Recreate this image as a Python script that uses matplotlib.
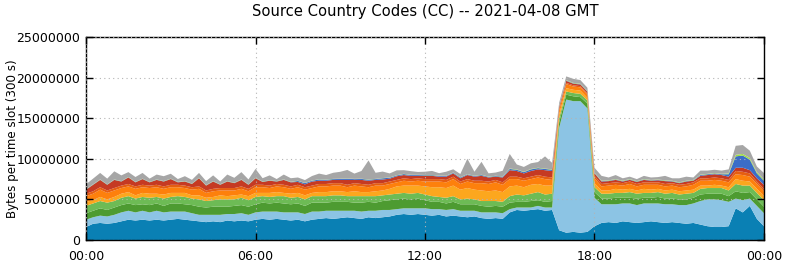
import numpy as np
import matplotlib
matplotlib.use("Agg")
import matplotlib.pyplot as plt
from matplotlib.ticker import FuncFormatter

# ==========================================================
# DATA  (bytes per 300 s slot, in millions)
# one value every 15 minutes, 00:00 .. 24:00 (97 samples)
# ==========================================================

slot_minutes = 15
hour_ticks = [0, 6, 12, 18, 24]
hour_labels = ["00:00", "06:00", "12:00", "18:00", "00:00"]

layer_colors = [
    "#0a80b4",  # dark blue
    "#8cc4e4",  # light blue
    "#4d9b31",  # dark green
    "#6dbb55",  # light green
    "#fca71e",  # amber
    "#fd800c",  # orange
    "#e65e10",  # dark orange
    "#c53a23",  # red
    "#3b6dc8",  # blue
    "#a0e040",  # lime
    "#a6a6a6",  # gray
]

dark_blue = [
    1.6, 2.0, 2.1, 2.0, 2.1, 2.3, 2.5, 2.4, 2.5, 2.4, 2.5, 2.4,
    2.5, 2.6, 2.5, 2.4, 2.3, 2.2, 2.3, 2.2, 2.4, 2.3, 2.4, 2.3,
    2.5, 2.6, 2.5, 2.6, 2.5, 2.4, 2.5, 2.3, 2.5, 2.6, 2.7, 2.6,
    2.7, 2.8, 2.7, 2.6, 2.8, 2.7, 2.8, 2.9, 3.1, 3.2, 3.1, 3.2,
    3.1, 3.0, 3.1, 2.9, 3.0, 2.9, 2.8, 2.9, 2.7, 2.6, 2.7, 2.6,
    3.4, 3.7, 3.6, 3.7, 3.8, 3.6, 3.7, 1.2, 0.9, 1.0, 0.9, 1.0,
    1.7, 2.1, 2.2, 2.1, 2.3, 2.2, 2.1, 2.2, 2.3, 2.2, 2.1, 2.2,
    2.1, 2.0, 2.1, 1.9, 1.7, 1.6, 1.6, 1.7, 3.9, 3.4, 4.2, 2.6,
    1.7,
]

light_blue = [
    0.9, 0.8, 0.9, 0.9, 1.0, 1.1, 1.1, 1.0, 1.1, 1.0, 1.1, 1.0,
    1.0, 0.9, 1.0, 0.9, 0.8, 0.9, 0.8, 0.9, 0.8, 0.9, 0.9, 0.8,
    0.9, 0.9, 1.0, 0.9, 0.9, 1.0, 0.9, 0.9, 1.0, 0.9, 0.9, 1.0,
    0.9, 0.8, 0.9, 0.9, 0.8, 0.9, 0.9, 0.8, 0.7, 0.7, 0.8, 0.7,
    0.8, 0.8, 0.7, 0.8, 0.8, 0.7, 0.8, 0.7, 0.7, 0.8, 0.7, 0.7,
    0.4, 0.3, 0.4, 0.3, 0.4, 0.4, 0.3, 12.6, 16.4, 16.1, 16.2, 15.2,
    3.5, 2.3, 2.2, 2.3, 2.2, 2.3, 2.2, 2.3, 2.2, 2.3, 2.3, 2.2,
    2.2, 2.3, 2.4, 2.9, 3.3, 3.4, 3.3, 3.0, 1.2, 1.5, 0.9, 1.6,
    1.6,
]

dark_green = [
    0.8, 0.8, 0.9, 0.8, 0.9, 0.9, 0.9, 0.9, 0.8, 0.9, 0.9, 0.8,
    1.0, 1.0, 0.9, 1.0, 1.0, 0.9, 1.0, 1.0, 0.9, 1.0, 1.0, 1.0,
    1.0, 1.1, 1.0, 1.1, 1.1, 1.0, 1.1, 1.0, 1.1, 1.1, 1.0, 1.1,
    1.1, 1.1, 1.0, 1.1, 1.1, 1.0, 1.1, 1.2, 1.2, 1.2, 1.1, 1.2,
    1.0, 0.9, 0.9, 0.8, 0.9, 0.8, 0.8, 0.8, 0.8, 0.7, 0.8, 0.8,
    0.8, 0.7, 0.7, 0.8, 0.7, 0.7, 0.8, 0.7, 0.6, 0.6, 0.5, 0.6,
    0.7, 0.7, 0.7, 0.8, 0.7, 0.7, 0.8, 0.7, 0.7, 0.8, 0.7, 0.7,
    0.7, 0.7, 0.7, 0.8, 0.7, 0.7, 0.8, 0.7, 0.9, 0.9, 0.8, 0.8,
    0.8,
]

light_green = [
    0.9, 0.9, 0.9, 0.9, 0.8, 0.9, 0.9, 0.8, 0.9, 0.9, 0.8, 0.9,
    0.8, 0.9, 0.9, 0.8, 0.9, 0.8, 0.8, 0.9, 0.9, 0.8, 0.9, 0.8,
    0.9, 0.8, 0.8, 0.8, 0.9, 0.8, 0.8, 0.8, 0.8, 0.8, 0.8, 0.8,
    0.8, 0.7, 0.8, 0.8, 0.7, 0.8, 0.7, 0.7, 0.7, 0.7, 0.7, 0.7,
    0.7, 0.7, 0.6, 0.7, 0.7, 0.6, 0.7, 0.6, 0.6, 0.7, 0.6, 0.6,
    0.8, 0.9, 0.8, 0.9, 1.0, 0.9, 0.9, 0.5, 0.4, 0.4, 0.4, 0.4,
    0.6, 0.6, 0.6, 0.6, 0.6, 0.7, 0.6, 0.6, 0.6, 0.6, 0.6, 0.7,
    0.6, 0.7, 0.6, 0.7, 0.7, 0.7, 0.7, 0.7, 0.9, 0.9, 0.8, 0.8,
    0.8,
]

amber = [
    0.5, 0.4, 0.5, 0.4, 0.5, 0.5, 0.5, 0.4, 0.5, 0.5, 0.4, 0.5,
    0.5, 0.4, 0.5, 0.4, 0.5, 0.4, 0.4, 0.5, 0.4, 0.5, 0.4, 0.5,
    0.5, 0.4, 0.5, 0.5, 0.4, 0.5, 0.5, 0.5, 0.4, 0.5, 0.5, 0.5,
    0.5, 0.5, 0.6, 0.5, 0.5, 0.6, 0.6, 0.7, 0.9, 0.9, 1.0, 0.9,
    1.0, 1.1, 1.2, 1.2, 1.3, 1.2, 1.3, 1.2, 1.3, 1.2, 1.3, 1.2,
    1.2, 1.1, 1.0, 1.1, 1.0, 1.1, 1.0, 0.5, 0.4, 0.4, 0.4, 0.3,
    0.5, 0.4, 0.4, 0.5, 0.4, 0.4, 0.4, 0.5, 0.4, 0.4, 0.4, 0.4,
    0.4, 0.4, 0.4, 0.4, 0.3, 0.4, 0.3, 0.4, 0.6, 0.6, 0.5, 0.5,
    0.5,
]

orange = [
    0.7, 0.8, 0.9, 0.8, 0.8, 0.7, 0.7, 0.8, 0.7, 0.7, 0.8, 0.7,
    0.7, 0.7, 0.6, 0.7, 0.8, 0.6, 0.7, 0.6, 0.7, 0.6, 0.7, 0.6,
    0.7, 0.7, 0.6, 0.7, 0.7, 0.6, 0.7, 0.7, 0.6, 0.7, 0.7, 0.7,
    0.7, 0.6, 0.7, 0.7, 0.6, 0.7, 0.6, 0.6, 0.5, 0.6, 0.5, 0.6,
    0.6, 0.7, 0.7, 0.7, 0.8, 0.7, 0.8, 0.8, 0.9, 0.9, 1.0, 0.9,
    0.9, 0.8, 0.8, 0.7, 0.8, 0.8, 0.7, 0.5, 0.5, 0.4, 0.4, 0.4,
    0.6, 0.5, 0.6, 0.5, 0.5, 0.6, 0.5, 0.5, 0.6, 0.5, 0.5, 0.5,
    0.5, 0.5, 0.6, 0.6, 0.6, 0.6, 0.6, 0.6, 0.6, 0.7, 0.6, 0.6,
    0.6,
]

dark_orange = [
    0.3, 0.3, 0.3, 0.3, 0.3, 0.3, 0.3, 0.3, 0.3, 0.3, 0.3, 0.3,
    0.3, 0.3, 0.3, 0.3, 0.3, 0.3, 0.3, 0.3, 0.3, 0.3, 0.3, 0.3,
    0.3, 0.3, 0.3, 0.3, 0.3, 0.3, 0.3, 0.3, 0.3, 0.3, 0.3, 0.3,
    0.3, 0.3, 0.3, 0.3, 0.3, 0.3, 0.3, 0.3, 0.3, 0.3, 0.3, 0.3,
    0.3, 0.3, 0.3, 0.3, 0.3, 0.3, 0.3, 0.3, 0.3, 0.3, 0.3, 0.3,
    0.3, 0.3, 0.3, 0.3, 0.3, 0.3, 0.3, 0.2, 0.15, 0.15, 0.15, 0.15,
    0.3, 0.3, 0.3, 0.3, 0.3, 0.3, 0.3, 0.3, 0.3, 0.3, 0.3, 0.3,
    0.3, 0.3, 0.3, 0.3, 0.3, 0.3, 0.3, 0.3, 0.4, 0.4, 0.4, 0.3,
    0.3,
]

red = [
    0.5, 0.8, 0.9, 0.7, 1.0, 0.5, 0.8, 0.5, 0.7, 0.4, 0.6, 0.6,
    0.7, 0.3, 0.5, 0.4, 1.0, 0.6, 0.9, 0.4, 0.8, 0.6, 0.8, 0.5,
    0.8, 0.35, 0.6, 0.3, 0.6, 0.5, 0.35, 0.35, 0.5, 0.4, 0.4, 0.4,
    0.4, 0.6, 0.4, 0.5, 0.5, 0.4, 0.45, 0.35, 0.45, 0.4, 0.4, 0.3,
    0.4, 0.4, 0.3, 0.4, 0.4, 0.4, 0.5, 0.5, 0.6, 0.5, 0.4, 0.6,
    0.8, 0.7, 0.6, 0.7, 0.7, 0.8, 0.8, 0.2, 0.25, 0.2, 0.2, 0.2,
    0.3, 0.3, 0.25, 0.3, 0.2, 0.2, 0.25, 0.3, 0.2, 0.25, 0.35, 0.2,
    0.2, 0.3, 0.2, 0.3, 0.4, 0.4, 0.4, 0.4, 0.4, 0.5, 0.4, 0.4,
    0.5,
]

blue = [
    0.03, 0.03, 0.03, 0.03, 0.03, 0.03, 0.03, 0.03, 0.03, 0.03, 0.03, 0.03,
    0.03, 0.03, 0.03, 0.03, 0.03, 0.03, 0.03, 0.03, 0.03, 0.03, 0.03, 0.03,
    0.03, 0.03, 0.03, 0.03, 0.03, 0.03, 0.12, 0.15, 0.1, 0.15, 0.12, 0.1,
    0.12, 0.15, 0.1, 0.12, 0.12, 0.1, 0.15, 0.12, 0.1, 0.12, 0.1, 0.1,
    0.08, 0.08, 0.1, 0.08, 0.08, 0.1, 0.08, 0.08, 0.1, 0.08, 0.08, 0.1,
    0.15, 0.15, 0.15, 0.2, 0.15, 0.15, 0.15, 0.05, 0.05, 0.05, 0.05, 0.05,
    0.05, 0.05, 0.05, 0.05, 0.05, 0.05, 0.05, 0.05, 0.05, 0.05, 0.05, 0.05,
    0.05, 0.05, 0.05, 0.1, 0.1, 0.1, 0.1, 0.3, 1.4, 1.5, 1.3, 0.6,
    0.5,
]

lime = [
    0.03, 0.03, 0.03, 0.03, 0.03, 0.03, 0.03, 0.03, 0.03, 0.03, 0.03, 0.03,
    0.03, 0.03, 0.03, 0.03, 0.03, 0.03, 0.03, 0.03, 0.03, 0.03, 0.03, 0.03,
    0.03, 0.03, 0.03, 0.03, 0.03, 0.03, 0.03, 0.03, 0.03, 0.03, 0.03, 0.03,
    0.03, 0.03, 0.03, 0.03, 0.03, 0.03, 0.03, 0.03, 0.03, 0.03, 0.03, 0.03,
    0.03, 0.03, 0.03, 0.03, 0.03, 0.03, 0.03, 0.03, 0.03, 0.03, 0.03, 0.03,
    0.05, 0.05, 0.05, 0.05, 0.05, 0.05, 0.05, 0.05, 0.05, 0.05, 0.05, 0.05,
    0.05, 0.05, 0.05, 0.05, 0.05, 0.05, 0.05, 0.05, 0.05, 0.05, 0.05, 0.05,
    0.05, 0.05, 0.05, 0.05, 0.05, 0.05, 0.05, 0.1, 0.2, 0.2, 0.2, 0.15,
    0.15,
]

gray = [
    0.6, 0.7, 0.8, 0.7, 1.0, 0.7, 0.6, 0.6, 0.7, 0.4, 0.6, 0.6,
    0.6, 0.35, 0.6, 0.45, 0.6, 0.5, 0.7, 0.35, 0.8, 0.6, 0.9, 0.6,
    1.1, 0.4, 0.6, 0.25, 0.6, 0.45, 0.4, 0.35, 0.55, 0.7, 0.55, 0.75,
    0.85, 1.05, 0.65, 0.95, 2.35, 0.75, 0.8, 0.5, 0.6, 0.45, 0.45, 0.35,
    0.4, 0.5, 0.3, 0.5, 0.4, 0.4, 1.9, 0.5, 1.6, 0.4, 0.4, 0.7,
    1.8, 0.6, 0.6, 0.7, 0.7, 1.5, 0.8, 0.4, 0.45, 0.5, 0.45, 0.4,
    0.6, 0.6, 0.35, 0.5, 0.3, 0.3, 0.25, 0.4, 0.3, 0.3, 0.55, 0.3,
    0.5, 0.5, 0.3, 0.5, 0.4, 0.4, 0.4, 0.5, 1.1, 1.1, 0.9, 0.7,
    0.8,
]

layers = [dark_blue, light_blue, dark_green, light_green, amber, orange,
          dark_orange, red, blue, lime, gray]

# ==========================================================
# PLOT
# ==========================================================

hours = np.arange(len(dark_blue)) * slot_minutes / 60.0
values = np.array(layers) * 1e6

fig = plt.figure(figsize=(7.85, 2.64), dpi=100)
ax = fig.add_axes([0.1096, 0.0909, 0.8636, 0.7689])

ax.stackplot(hours, values, colors=layer_colors, linewidth=0)

ax.set_xlim(0, 24)
ax.set_ylim(0, 25e6)
ax.set_xticks(hour_ticks)
ax.set_xticklabels(hour_labels)
ax.set_yticks(np.arange(0, 25e6 + 1, 5e6))
ax.yaxis.set_major_formatter(FuncFormatter(lambda v, p: f"{int(v)}"))

ax.grid(True, color="#b4b4b4", linestyle=(0, (1, 3)), linewidth=0.8)
ax.set_axisbelow(False)
ax.tick_params(direction="in", length=5, width=1, labelsize=9,
               top=True, right=True)
ax.tick_params(axis="y", pad=4)
ax.tick_params(axis="x", pad=7)
for s in ax.spines.values():
    s.set_linewidth(1)

ax.set_ylabel("Bytes per time slot (300 s)", fontsize=8.6)
ax.yaxis.set_label_coords(-0.0996, 0.5)
fig.suptitle("Source Country Codes (CC) -- 2021-04-08 GMT",
             x=0.5414, y=0.985, fontsize=10.6)

fig.savefig("out.png", dpi=100)
